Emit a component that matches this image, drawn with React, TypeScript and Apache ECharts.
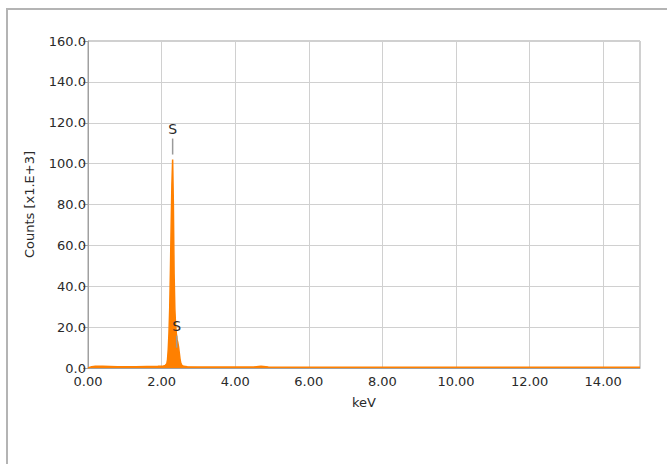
import React, { useEffect, useRef } from "react";
import * as echarts from "echarts";

const energyKeV: number[] = [
  0.0, 0.1, 0.2, 0.4, 0.6, 0.8, 1.0, 1.3, 1.6, 1.9, 2.05, 2.1, 2.14, 2.16, 2.18, 2.2,
  2.22, 2.24, 2.26, 2.28, 2.3, 2.32, 2.34, 2.36, 2.38, 2.4, 2.42, 2.44, 2.46, 2.48,
  2.5, 2.52, 2.55, 2.6, 2.7, 3.0, 3.5, 4.0, 4.5, 4.7, 4.9, 5.5, 6.0, 7.0, 8.0, 9.0,
  10.0, 11.0, 12.0, 13.0, 14.0, 15.0,
];
const countsK: number[] = [
  0.0, 0.6, 0.9, 0.8, 0.7, 0.6, 0.6, 0.6, 0.7, 0.8, 1.0, 1.3, 2.0, 4.0, 9.0, 17.0,
  29.0, 48.0, 70.0, 90.0, 102.0, 80.0, 46.0, 29.0, 21.0, 17.0, 14.0, 12.5, 10.5, 7.5,
  4.5, 2.5, 1.3, 0.8, 0.6, 0.5, 0.5, 0.5, 0.5, 0.8, 0.5, 0.4, 0.4, 0.4, 0.4, 0.4,
  0.4, 0.4, 0.4, 0.4, 0.4, 0.4,
];
const peakLabels = [
  { name: "S", keV: 2.3, counts: 102 },
  { name: "S", keV: 2.41, counts: 8 },
];
const yTicks: number[] = [0, 20, 40, 60, 80, 100, 120, 140, 160];
const xTicks: number[] = [0, 2, 4, 6, 8, 10, 12, 14];

const FONT = "'DejaVu Sans', sans-serif";
const FS = 13;

export default function App() {
  const ref = useRef<HTMLDivElement>(null);
  useEffect(() => {
    if (!ref.current) return;
    const chart = echarts.init(ref.current, undefined, { renderer: "svg" });
    chart.setOption({
      animation: false,
      backgroundColor: "#ffffff",
      textStyle: { fontFamily: FONT },
      graphic: [
        {
          type: "rect",
          shape: { x: 7, y: 9, width: 720, height: 520 },
          style: { fill: "none", stroke: "#b4b4b4", lineWidth: 2 },
          silent: true,
        },
      ],
      grid: {
        left: 88,
        right: 27,
        top: 41,
        bottom: 96,
        show: true,
        borderColor: "#a0a0a0",
        borderWidth: 1,
      },
      xAxis: {
        type: "value",
        min: 0,
        max: 15,
        interval: 2,
        name: "keV",
        nameLocation: "middle",
        nameGap: 28,
        nameTextStyle: { color: "#2a2a2a", fontSize: FS, fontFamily: FONT },
        axisLine: { show: true, lineStyle: { color: "#a0a0a0" } },
        axisTick: { show: false },
        axisLabel: {
          color: "#2a2a2a",
          fontSize: FS,
          fontFamily: FONT,
          margin: 7,
          customValues: xTicks,
          formatter: (v: number) => v.toFixed(2),
        },
        splitLine: { show: true, lineStyle: { color: "#d0d0d0" } },
      },
      yAxis: {
        type: "value",
        min: 0,
        max: 160,
        interval: 20,
        name: "Counts [x1.E+3]",
        nameLocation: "middle",
        nameGap: 52,
        nameTextStyle: { color: "#2a2a2a", fontSize: FS, fontFamily: FONT },
        axisLine: { show: true, lineStyle: { color: "#a0a0a0" } },
        axisTick: { show: true, length: 5, lineStyle: { color: "#a0a0a0" } },
        axisLabel: {
          color: "#2a2a2a",
          fontSize: FS,
          fontFamily: FONT,
          margin: 2,
          customValues: yTicks,
          formatter: (v: number) => v.toFixed(1),
        },
        splitLine: { show: true, lineStyle: { color: "#d0d0d0" } },
      },
      series: [
        {
          type: "line",
          data: energyKeV.map((e, i) => [e, countsK[i]]),
          showSymbol: false,
          symbol: "none",
          lineStyle: { color: "#ff8000", width: 1.5 },
          areaStyle: { color: "#ff8000", opacity: 1 },
          markPoint: {
            silent: true,
            data: peakLabels.map((p, i) => ({
              name: p.name,
              coord: [p.keV, p.counts],
              symbol: "rect",
              symbolSize: i === 0 ? [1.5, 16] : [1.5, 12],
              symbolOffset: i === 0 ? [0, -13] : [0, -10],
              itemStyle: { color: "#9a9a9a" },
              label: {
                show: true,
                position: "top",
                distance: 3,
                formatter: p.name,
                color: "#2a2a2a",
                fontSize: 14,
                fontFamily: FONT,
              },
            })),
          },
        },
      ],
    });
    return () => chart.dispose();
  }, []);
  return (
    <div
      ref={ref}
      style={{ position: "absolute", left: 0, top: 0, width: 667, height: 464 }}
    />
  );
}
